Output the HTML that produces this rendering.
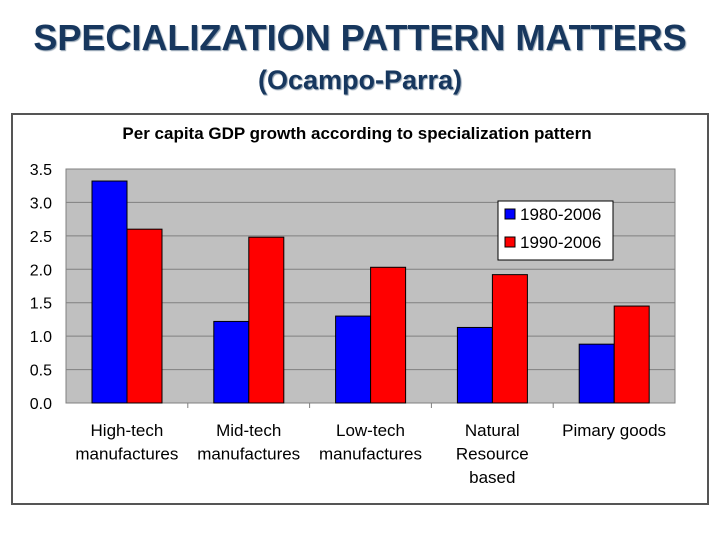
<!DOCTYPE html>
<html><head><meta charset="utf-8"><style>
body{margin:0;width:720px;height:540px;background:#fff;overflow:hidden;font-family:"Liberation Sans",sans-serif}
.t{position:absolute;left:0;width:720px;text-align:center;font-weight:bold;color:#17375e;text-shadow:1px 1px 1px #8899aa;line-height:1}
</style></head><body>
<div class="t" style="top:20px;font-size:36px">SPECIALIZATION PATTERN MATTERS</div>
<div class="t" style="top:67px;font-size:27px">(Ocampo-Parra)</div>
<svg id="c" width="720" height="540" style="position:absolute;left:0;top:0"></svg>
<script>
const categories=[["High-tech","manufactures"],["Mid-tech","manufactures"],["Low-tech","manufactures"],["Natural","Resource","based"],["Pimary goods"]];
const series1980=[3.32,1.22,1.30,1.13,0.88];
const series1990=[2.60,2.48,2.03,1.92,1.45];
const yTicks=["0.0","0.5","1.0","1.5","2.0","2.5","3.0","3.5"];
const seriesNames=["1980-2006","1990-2006"];
const NS="http://www.w3.org/2000/svg",svg=document.getElementById('c');
function mk(t,a,txt){const e=document.createElementNS(NS,t);for(const k in a)e.setAttribute(k,a[k]);if(txt!=null)e.textContent=txt;svg.appendChild(e);return e;}
const X0=66,X1=675,Y0=403,Y1=169;
const y=v=>Y0-(v/3.5)*(Y0-Y1);
const cw=(X1-X0)/categories.length;
const x=i=>X0+i*cw;
let e=mk('rect',{x:12,y:114,width:696,height:390,fill:'#fff',stroke:'#555','stroke-width':2});

e=mk('text',{x:357,y:139,'text-anchor':'middle','font-size':17,'font-weight':'bold',fill:'#000'},'Per capita GDP growth according to specialization pattern');

e=mk('rect',{x:X0,y:Y1,width:X1-X0,height:Y0-Y1,fill:'#c0c0c0',stroke:'#808080'});

yTicks.forEach(t=>{const v=parseFloat(t),yy=y(v);
 if(v>0){const g=mk('line',{x1:X0,x2:X1,y1:yy,y2:yy,stroke:'#808080'});}
 const l=mk('text',{x:52,y:yy+6,'text-anchor':'end','font-size':16,fill:'#000'},t);
 });
mk('line',{x1:X0,x2:X1,y1:Y0,y2:Y0,stroke:'#808080'});
categories.forEach((c,i)=>{
 if(i>0){const tk=mk('line',{x1:x(i),x2:x(i),y1:Y0,y2:Y0+5,stroke:'#808080'});}
 const bw=35,bx=x(i)+26;
 let b=mk('rect',{x:bx,y:y(series1980[i]),width:bw,height:Y0-y(series1980[i]),fill:'#0000ff',stroke:'#000','stroke-width':1});
 
 b=mk('rect',{x:bx+bw,y:y(series1990[i]),width:bw,height:Y0-y(series1990[i]),fill:'#ff0000',stroke:'#000','stroke-width':1});
 
 c.forEach((ln,j)=>{const l=mk('text',{x:x(i)+cw/2,y:436+j*23.5,'text-anchor':'middle','font-size':17,fill:'#000'},ln);
  });
});
e=mk('rect',{x:498,y:201,width:115,height:59,fill:'#fff',stroke:'#000'});

seriesNames.forEach((n,k)=>{const yy=209+k*28;
 let s=mk('rect',{x:505,y:yy,width:10,height:10,fill:k?'#ff0000':'#0000ff',stroke:'#000'});
 
 s=mk('text',{x:520,y:yy+11,'font-size':17,fill:'#000'},n);
 });
</script>
</body></html>
